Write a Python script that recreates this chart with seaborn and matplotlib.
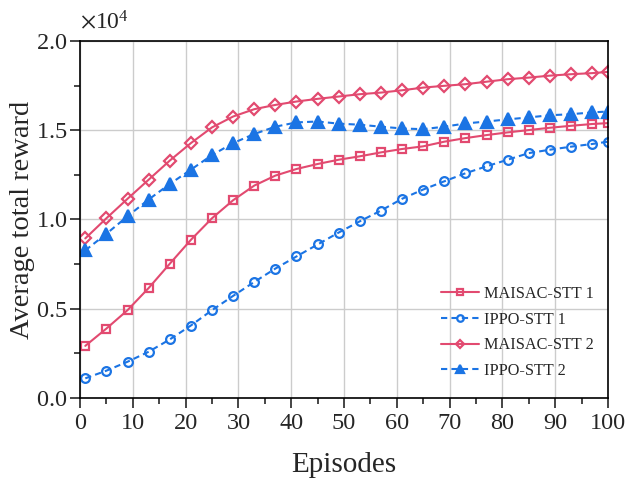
import numpy as np
import pandas as pd
import matplotlib
matplotlib.use("Agg")
import matplotlib.pyplot as plt
from matplotlib.ticker import MultipleLocator, ScalarFormatter
import seaborn as sns

# veriler (x10^4 birim)
episodes = [1, 5, 9, 13, 17, 21, 25, 29, 33, 37, 41, 45, 49, 53, 57, 61, 65,
            69, 73, 77, 81, 85, 89, 93, 97, 100]
maisac_1 = [0.292, 0.389, 0.492, 0.616, 0.752, 0.886, 1.007, 1.108, 1.190, 1.246,
            1.283, 1.311, 1.335, 1.354, 1.376, 1.395, 1.410, 1.436, 1.456, 1.473,
            1.488, 1.501, 1.514, 1.525, 1.535, 1.540]
ippo_1 = [0.110, 0.153, 0.203, 0.259, 0.328, 0.406, 0.492, 0.572, 0.650, 0.725,
          0.793, 0.860, 0.927, 0.990, 1.050, 1.116, 1.168, 1.214, 1.259, 1.298,
          1.335, 1.372, 1.391, 1.408, 1.423, 1.436]
maisac_2 = [0.894, 1.007, 1.116, 1.223, 1.330, 1.428, 1.516, 1.577, 1.618, 1.642,
            1.661, 1.676, 1.689, 1.702, 1.711, 1.724, 1.739, 1.749, 1.758, 1.772,
            1.786, 1.795, 1.806, 1.814, 1.820, 1.827]
ippo_2 = [0.827, 0.920, 1.018, 1.112, 1.199, 1.279, 1.361, 1.428, 1.479, 1.520,
          1.544, 1.549, 1.537, 1.531, 1.520, 1.510, 1.506, 1.520, 1.538, 1.549,
          1.561, 1.572, 1.584, 1.590, 1.600, 1.605]
labels = ["MAISAC-STT 1", "IPPO-STT 1", "MAISAC-STT 2", "IPPO-STT 2"]

kirmizi = "#E24A70"
mavi = "#1B74E4"

sns.set_style("ticks")
plt.rcParams["font.family"] = ["Liberation Serif", "DejaVu Serif"]
plt.rcParams["mathtext.fontset"] = "stix"

fig, ax = plt.subplots(figsize=(6.27, 4.83), dpi=100)
fig.subplots_adjust(left=0.1276, right=0.9697, top=0.9151, bottom=0.176)

stiller = [
    (maisac_1, kirmizi, "-", "s", 6, "none"),
    (ippo_1, mavi, (0, (3, 2)), "o", 6.3, "none"),
    (maisac_2, kirmizi, "-", "D", 6, "none"),
    (ippo_2, mavi, (0, (3, 2)), "^", 8, mavi),
]
for (deger, renk, ls, mk, ms, fc), lab in zip(stiller, labels):
    df = pd.DataFrame({"ep": episodes, "r": np.array(deger) * 1e4})
    sns.lineplot(data=df, x="ep", y="r", ax=ax, color=renk, linestyle=ls,
                 marker=mk, markersize=ms, markerfacecolor=fc,
                 markeredgecolor=renk, markeredgewidth=1.6, linewidth=1.5,
                 label=lab)

ax.set_xlim(0, 100)
ax.set_ylim(0, 2e4)
ax.xaxis.set_major_locator(MultipleLocator(10))
ax.xaxis.set_minor_locator(MultipleLocator(5))
ax.yaxis.set_major_locator(MultipleLocator(5000))
ax.yaxis.set_minor_locator(MultipleLocator(2500))
fmt = ScalarFormatter(useMathText=True)
fmt.set_powerlimits((0, 0))
ax.yaxis.set_major_formatter(fmt)
ax.yaxis.get_offset_text().set_fontsize(17)
ax.yaxis.OFFSETTEXTPAD = 9

ax.grid(True, which="major", color="#cccccc", linewidth=1)
ax.set_axisbelow(True)
ax.tick_params(which="major", direction="out", length=7, width=1.2, labelsize=17.5, pad=2)
ax.tick_params(which="minor", direction="out", length=4, width=1.2)
ax.tick_params(axis="x", which="major", pad=4)
for s in ax.spines.values():
    s.set_linewidth(1.2)
    s.set_color("black")

ax.set_xlabel("Episodes", fontsize=21, labelpad=13)
ax.set_ylabel("Average total reward", fontsize=20.5, labelpad=1)

ax.legend(loc="lower right", frameon=False, fontsize=11.7, labelspacing=0.6,
          handlelength=2.3, handletextpad=0.3, markerscale=0.75,
          bbox_to_anchor=(1.0, 0.012))

plt.savefig("out.png", dpi=100)
